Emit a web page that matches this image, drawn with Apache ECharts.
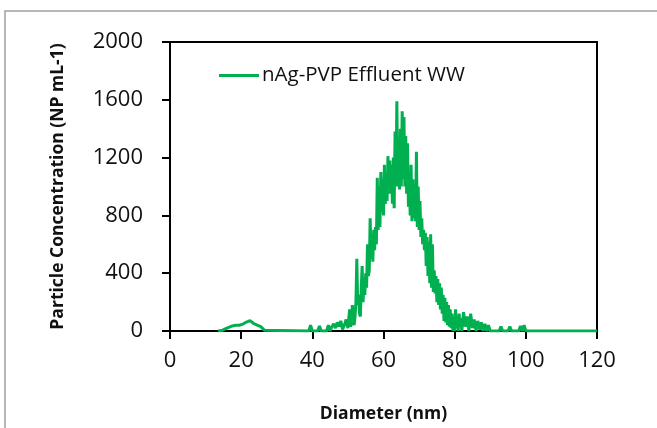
<!DOCTYPE html>
<html>
<head>
<meta charset="utf-8">
<script src="https://cdn.jsdelivr.net/npm/echarts@6/dist/echarts.min.js"></script>
<style>
  html, body { margin: 0; padding: 0; background: #fff; }
  #chart { width: 657px; height: 428px; }
</style>
</head>
<body>
<div id="chart"></div>
<script>
// 小峰段 (nm / NP mL-1)
var bumpDiameter = [13.5, 14, 14.5, 15, 15.5, 16, 16.5, 17, 17.5, 18, 18.5, 19, 19.5, 20, 20.5, 21, 21.5, 22, 22.5, 23,
    23.5, 24, 24.5, 25, 25.5, 26, 26.5, 27];
var bumpConc = [0, 0, 3, 8, 14, 20, 25, 30, 35, 38, 40, 40, 40, 42, 48, 55, 62, 70, 72, 62,
    52, 45, 40, 36, 30, 18, 6, 0];

// 主峰前零星段
var riseDiameter = [39, 39.5, 40, 41.5, 42, 42.5, 44, 44.5, 45, 45.5, 46, 46.5, 47, 47.5, 48, 48.5, 49, 49.5];
var riseConc = [0, 40, 0, 0, 35, 0, 0, 40, 0, 30, 50, 20, 60, 30, 70, 10, 40, 80];

// 主峰段
var peakDiameter = [
    50, 50.25, 50.5, 50.75, 51, 51.25, 51.5, 51.75, 52, 52.25, 52.5, 52.75, 53, 53.25, 53.5, 53.75,
    54, 54.25, 54.5, 54.75, 55, 55.25, 55.5, 55.75, 56, 56.25, 56.5, 56.75, 57, 57.25, 57.5, 57.75,
    58, 58.25, 58.5, 58.75, 59, 59.25, 59.5, 59.75, 60, 60.25, 60.5, 60.75, 61, 61.25, 61.5, 61.75,
    62, 62.25, 62.5, 62.75, 63, 63.25, 63.5, 63.75, 64, 64.25, 64.5, 64.75, 65, 65.25, 65.5, 65.75,
    66, 66.25, 66.5, 66.75, 67, 67.25, 67.5, 67.75, 68, 68.25, 68.5, 68.75, 69, 69.25, 69.5, 69.75,
    70, 70.25, 70.5, 70.75, 71, 71.25, 71.5, 71.75, 72, 72.25, 72.5, 72.75, 73, 73.25, 73.5, 73.75,
    74, 74.25, 74.5, 74.75, 75, 75.25, 75.5, 75.75, 76, 76.25, 76.5, 76.75, 77, 77.25, 77.5, 77.75,
    78, 78.25, 78.5, 78.75, 79, 79.25, 79.5, 79.75, 80, 80.25, 80.5, 80.75, 81, 81.25, 81.5, 81.75, 82
];
var peakConc = [
    20, 90, 150, 30, 60, 180, 90, 40, 100, 200, 500, 180, 250, 120, 100, 300,
    450, 200, 330, 250, 400, 300, 600, 380, 420, 780, 500, 620, 480, 700, 560, 720,
    600, 1060, 700, 1000, 720, 1100, 820, 1050, 800, 1150, 880, 1100, 900, 1210, 950, 1180,
    950, 1150, 880, 1200, 850, 1380, 1000, 1590, 1000, 1300, 980, 1400, 1000, 1520, 1050, 1480,
    1000, 1350, 950, 1300, 860, 1100, 800, 1150, 760, 1050, 780, 1000, 760, 1240, 720, 1000,
    700, 900, 650, 780, 600, 700, 560, 680, 450, 650, 380, 620, 330, 670, 300, 600,
    270, 420, 260, 380, 200, 360, 180, 330, 150, 300, 120, 250, 70, 230, 60, 200,
    40, 180, 30, 150, 20, 120, 0, 100, 0, 150, 20, 80, 0, 120, 30, 90, 0
];

// 尾部段
var tailDiameter = [82.5, 83, 83.5, 84, 84.5, 85, 85.5, 86, 86.5, 87, 87.5, 88, 88.5, 89, 89.5,
    90, 92.5, 93, 93.5, 95, 95.5, 96, 98, 98.5, 99, 99.5, 100, 120];
var tailConc = [130, 30, 100, 0, 120, 20, 80, 0, 70, 10, 60, 0, 50, 0, 40,
    0, 0, 30, 0, 0, 30, 0, 0, 35, 0, 40, 0, 0];

var seriesName = 'nAg-PVP Effluent WW';
var xTicks = { min: 0, max: 120, interval: 20 };
var yTicks = { min: 0, max: 2000, interval: 400 };

var diameter = bumpDiameter.concat(riseDiameter, peakDiameter, tailDiameter);
var concentration = bumpConc.concat(riseConc, peakConc, tailConc);
var points = [];
for (var i = 0; i < diameter.length; i++) {
    points.push([diameter[i], concentration[i]]);
}

var chart = echarts.init(document.getElementById('chart'));
var fontName = 'Open Sans';
var option = {
    backgroundColor: '#fff',
    animation: false,
    graphic: [{
        type: 'rect',
        shape: { x: 5, y: 11, width: 720, height: 500 },
        style: { fill: 'none', stroke: '#a0a0a0', lineWidth: 1.5 },
        silent: true
    }],
    grid: {
        left: 170, right: 60, top: 42, bottom: 93,
        show: true, borderColor: '#000', borderWidth: 2
    },
    legend: {
        left: 214, top: 60,
        icon: 'rect',
        itemWidth: 40, itemHeight: 3,
        textStyle: { fontFamily: fontName, fontSize: 20.5, color: '#111', padding: [0, 0, 0, -2] },
        data: [seriesName]
    },
    xAxis: {
        type: 'value',
        min: xTicks.min, max: xTicks.max, interval: xTicks.interval,
        name: 'Diameter (nm)',
        nameLocation: 'middle',
        nameGap: 74,
        nameTextStyle: { fontFamily: fontName, fontSize: 17.5, fontWeight: 'bold', color: '#111' },
        axisLine: { onZero: false, lineStyle: { color: '#000', width: 2 } },
        axisTick: { length: 8, lineStyle: { color: '#000', width: 2 } },
        axisLabel: { fontFamily: fontName, fontSize: 22, color: '#111', margin: 19 },
        splitLine: { show: false }
    },
    yAxis: {
        type: 'value',
        min: yTicks.min, max: yTicks.max, interval: yTicks.interval,
        name: 'Particle Concentration (NP mL-1)',
        nameLocation: 'middle',
        nameGap: 103,
        nameTextStyle: { fontFamily: fontName, fontSize: 17.5, fontWeight: 'bold', color: '#111' },
        axisLine: { show: true, lineStyle: { color: '#000', width: 2 } },
        axisTick: { show: true, length: 8, lineStyle: { color: '#000', width: 2 } },
        axisLabel: {
            fontFamily: fontName, fontSize: 22, color: '#111', margin: 27,
            formatter: function (v) { return String(v); }
        },
        splitLine: { show: false }
    },
    series: [{
        name: seriesName,
        type: 'line',
        data: points,
        showSymbol: false,
        symbol: 'none',
        color: '#00b050',
        lineStyle: { color: '#00b050', width: 3 }
    }]
};
chart.setOption(option);
</script>
</body>
</html>
